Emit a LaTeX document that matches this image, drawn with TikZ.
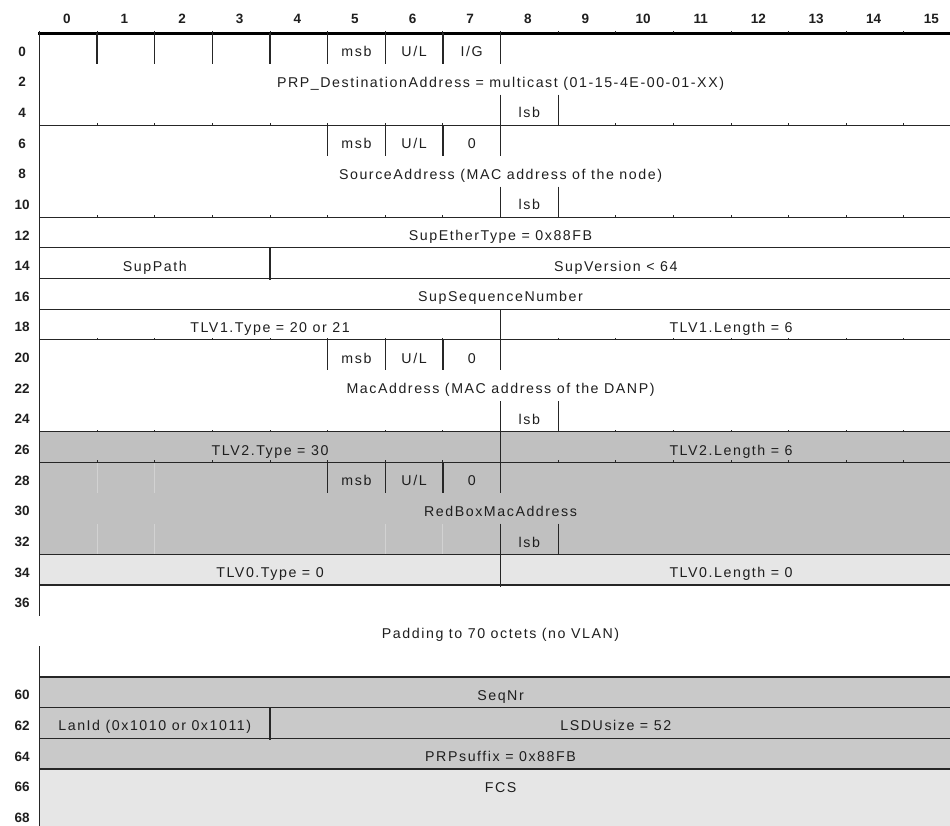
\documentclass[tikz,border=0pt]{standalone}
\usepackage{fontspec}
\setmainfont{Liberation Sans}
\newfontfamily\fieldfont[LetterSpace=11]{Liberation Sans}
\definecolor{rulec}{HTML}{262626}
\definecolor{txt}{HTML}{1E1E1E}
\definecolor{tlvtwo}{HTML}{C0C0C0}
\definecolor{trailer}{HTML}{C9C9C9}
\definecolor{light}{HTML}{E6E6E6}
\definecolor{faint}{HTML}{D2D2D2}
\tikzset{
  rule/.style={draw=rulec, line width=1.3pt},
  toprule/.style={draw=black, line width=2.6pt},
  faintrule/.style={draw=faint, line width=0.9pt},
  field/.style={font=\fieldfont\fontsize{14.2}{17}\selectfont, text=txt,
                inner sep=0pt, anchor=base, yshift=-8pt},
  lbl/.style={font=\bfseries\fontsize{13.5}{16}\selectfont, text=txt,
              inner sep=0pt, anchor=base},
}
\begin{document}
\begin{tikzpicture}[x=1pt,y=1pt]
\useasboundingbox (0,0) rectangle (950,-826);
\clip (0,0) rectangle (950,-826);
% one unit = one octet column horizontally, one 2-octet row vertically
\begin{scope}[shift={(39.5pt,-33.3pt)}, x=57.63pt, y=-30.65pt]
  % shaded fields
  \fill[tlvtwo]  (0,13) rectangle (16.5,17);
  \fill[light]   (0,17) rectangle (16.5,18);
  \fill[trailer] (0,21) rectangle (16.5,24);
  \fill[light]   (0,24) rectangle (16.5,27);
  % faint cell edges inside the RedBox field
  \foreach \c in {1,2} {
    \draw[faintrule] (\c,14) -- (\c,15);
    \draw[faintrule] (\c,16) -- (\c,17);
  }
  \foreach \c in {6,7} \draw[faintrule] (\c,16) -- (\c,17);

  % horizontal rules
  \foreach \r in {3,6,7,8,9,10,13,14,17,18,21,22,23,24}
    \draw[rule] (0,\r) -- (16.5,\r);
  \draw[toprule] (-0.02,0) -- (16.5,0);
  % column ticks on selected rules
  \foreach \r in {0,3,6,10,13,14}
    \foreach \c in {0,...,15}
      \draw[draw=rulec, line width=1pt] (\c,\r) -- ++(0pt,2.2pt);

  % left border, interrupted in the padding gap
  \draw[rule] (0,0) -- (0,19);
  \draw[rule] (0,20) -- (0,27);

  % vertical dividers
  \foreach \c in {1,...,8} \draw[rule] (\c,0) -- (\c,1);
  \foreach \r in {3,10,14}
    \foreach \c in {5,...,8} \draw[rule] (\c,\r) -- (\c,\r+1);
  \foreach \r in {2,5,12,16}
    \foreach \c in {8,9} \draw[rule] (\c,\r) -- (\c,\r+1);
  \foreach \r in {9,13,17} \draw[rule] (8,\r) -- (8,\r+1.06);
  \foreach \r in {7,22} \draw[rule] (4,\r) -- (4,\r+1.06);

  % column numbers
  \foreach \c in {0,...,15}
    \node[lbl] (col\c) at ([xshift=-1.5pt]\c+0.5,-0.33) {\c};
  % row offsets
  \foreach \k in {0,...,18} {
    \pgfmathtruncatemacro{\off}{2*\k}
    \node[lbl] (row\off) at ([yshift=-7.5pt]-0.3,\k+0.5) {\off};
  }
  \foreach \k/\off in {21/60,22/62,23/64,24/66,25/68}
    \node[lbl] (row\off) at ([yshift=-7.5pt]-0.3,\k+0.5) {\off};

  % destination address
  \node[field] (dmsb) at (5.5,0.5) {msb};
  \node[field] (dul)  at (6.5,0.5) {U/L};
  \node[field] (dig)  at (7.5,0.5) {I/G};
  \node[field] (dst)  at (8,1.5) {PRP\_DestinationAddress = multicast (01-15-4E-00-01-XX)};
  \node[field] (dlsb) at (8.5,2.5) {lsb};
  % source address
  \node[field] (smsb) at (5.5,3.5) {msb};
  \node[field] (sul)  at (6.5,3.5) {U/L};
  \node[field] (sig)  at (7.5,3.5) {0};
  \node[field] (src)  at (8,4.5) {SourceAddress (MAC address of the node)};
  \node[field] (slsb) at (8.5,5.5) {lsb};
  % supervision header
  \node[field] (ethtype) at (8,6.5) {SupEtherType = 0x88FB};
  \node[field] (suppath) at (2,7.5) {SupPath};
  \node[field] (supver)  at (10,7.5) {SupVersion < 64};
  \node[field] (supseq)  at (8,8.5) {SupSequenceNumber};
  % TLV1
  \node[field] (tlvAt) at (4,9.5) {TLV1.Type = 20 or 21};
  \node[field] (tlvAl) at (12,9.5) {TLV1.Length = 6};
  \node[field] (mmsb) at (5.5,10.5) {msb};
  \node[field] (mul)  at (6.5,10.5) {U/L};
  \node[field] (mig)  at (7.5,10.5) {0};
  \node[field] (mac)  at (8,11.5) {MacAddress (MAC address of the DANP)};
  \node[field] (mlsb) at (8.5,12.5) {lsb};
  % TLV2
  \node[field] (tlvBt) at (4,13.5) {TLV2.Type = 30};
  \node[field] (tlvBl) at (12,13.5) {TLV2.Length = 6};
  \node[field] (rmsb) at (5.5,14.5) {msb};
  \node[field] (rul)  at (6.5,14.5) {U/L};
  \node[field] (rig)  at (7.5,14.5) {0};
  \node[field] (rbox) at (8,15.5) {RedBoxMacAddress};
  \node[field] (rlsb) at (8.5,16.5) {lsb};
  % TLV0
  \node[field] (tlvCt) at (4,17.5) {TLV0.Type = 0};
  \node[field] (tlvCl) at (12,17.5) {TLV0.Length = 0};
  % padding and PRP trailer
  \node[field] (pad)    at (8,19.5) {Padding to 70 octets (no VLAN)};
  \node[field] (seqnr)  at (8,21.5) {SeqNr};
  \node[field] (lanid)  at (2,22.5) {LanId (0x1010 or 0x1011)};
  \node[field] (lsdu)   at (10,22.5) {LSDUsize = 52};
  \node[field] (suffix) at (8,23.5) {PRPsuffix = 0x88FB};
  \node[field] (fcs)    at (8,24.5) {FCS};
\end{scope}
\end{tikzpicture}
\end{document}
